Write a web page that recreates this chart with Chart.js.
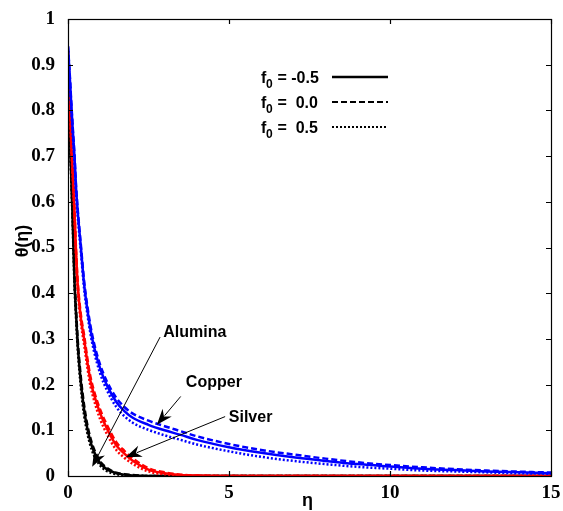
<!DOCTYPE html>
<html>
<head>
<meta charset="utf-8">
<script src="https://cdn.jsdelivr.net/npm/chart.js@4.4.1/dist/chart.umd.min.js"></script>
<style>
  html, body { margin: 0; padding: 0; background: #fff; }
  #wrap { width: 563px; height: 511px; }
</style>
</head>
<body>
<div id="wrap"><canvas id="thetaChart" width="563" height="511"></canvas></div>
<script>
// eta values shared by every curve
const eta = [0, 0.05, 0.1, 0.15, 0.2, 0.25, 0.3, 0.4, 0.5, 0.6, 0.7, 0.8, 1, 1.2, 1.5, 1.75, 2, 2.5, 3, 3.5, 4, 5, 6, 7, 8, 9, 10, 11, 12, 13, 14, 15];

// copper (blue)
const copperM05 = [0.94, 0.88, 0.815, 0.755, 0.70, 0.63, 0.58, 0.50, 0.42, 0.365, 0.32, 0.285, 0.235, 0.20, 0.162, 0.142, 0.128, 0.112, 0.10, 0.09, 0.079, 0.063, 0.051, 0.041, 0.033, 0.026, 0.021, 0.016, 0.013, 0.010, 0.008, 0.006];
const copper00 = [0.94, 0.885, 0.82, 0.76, 0.705, 0.635, 0.585, 0.505, 0.427, 0.372, 0.328, 0.293, 0.243, 0.208, 0.171, 0.151, 0.137, 0.121, 0.109, 0.098, 0.087, 0.070, 0.057, 0.047, 0.038, 0.030, 0.024, 0.019, 0.015, 0.012, 0.0095, 0.0075];
const copperP05 = [0.93, 0.87, 0.805, 0.745, 0.69, 0.62, 0.57, 0.49, 0.41, 0.355, 0.31, 0.275, 0.224, 0.189, 0.151, 0.131, 0.117, 0.101, 0.089, 0.079, 0.069, 0.054, 0.042, 0.033, 0.026, 0.020, 0.016, 0.012, 0.010, 0.008, 0.006, 0.005];

// silver (red)
const silverM05 = [0.93, 0.83, 0.73, 0.66, 0.58, 0.49, 0.42, 0.345, 0.30, 0.25, 0.208, 0.18, 0.137, 0.105, 0.067, 0.049, 0.034, 0.014, 0.006, 0.002, 0.001, 0, 0, 0, 0, 0, 0, 0, 0, 0, 0, 0];
const silver00 = [0.93, 0.835, 0.735, 0.665, 0.585, 0.495, 0.427, 0.353, 0.308, 0.258, 0.216, 0.188, 0.145, 0.113, 0.074, 0.055, 0.039, 0.017, 0.008, 0.003, 0.001, 0, 0, 0, 0, 0, 0, 0, 0, 0, 0, 0];
const silverP05 = [0.92, 0.82, 0.72, 0.65, 0.57, 0.48, 0.41, 0.335, 0.288, 0.238, 0.196, 0.168, 0.124, 0.093, 0.057, 0.040, 0.027, 0.010, 0.004, 0.001, 0, 0, 0, 0, 0, 0, 0, 0, 0, 0, 0, 0];

// alumina (black)
const aluminaM05 = [0.91, 0.77, 0.66, 0.55, 0.43, 0.355, 0.29, 0.205, 0.145, 0.104, 0.075, 0.054, 0.028, 0.015, 0.006, 0.003, 0.001, 0, 0, 0, 0, 0, 0, 0, 0, 0, 0, 0, 0, 0, 0, 0];
const alumina00 = [0.91, 0.775, 0.665, 0.56, 0.44, 0.365, 0.30, 0.215, 0.155, 0.112, 0.082, 0.06, 0.032, 0.018, 0.007, 0.004, 0.002, 0, 0, 0, 0, 0, 0, 0, 0, 0, 0, 0, 0, 0, 0, 0];
const aluminaP05 = [0.90, 0.76, 0.65, 0.54, 0.42, 0.345, 0.28, 0.193, 0.133, 0.094, 0.066, 0.046, 0.023, 0.011, 0.004, 0.002, 0.001, 0, 0, 0, 0, 0, 0, 0, 0, 0, 0, 0, 0, 0, 0, 0];

// tick values
const xTicks = [0, 5, 10, 15];
const yTicks = [0, 0.1, 0.2, 0.3, 0.4, 0.5, 0.6, 0.7, 0.8, 0.9, 1];

// legend rows and label arrows (label pos, arrow start, arrow tip in data units)
const legendLabels = ['-0.5', ' 0.0', ' 0.5'];
const arrowNotes = [
    { text: 'Alumina', at: [3.94, 0.313], from: [2.86, 0.304], to: [0.75, 0.02] },
    { text: 'Copper', at: [4.53, 0.204], from: [3.5, 0.174], to: [2.76, 0.112] },
    { text: 'Silver', at: [5.67, 0.127], from: [4.88, 0.13], to: [1.79, 0.041] }
];

const blue = '#0000ff';
const red = '#ff0000';
const black = '#000000';
const dashes = [[], [6, 3], [2, 2]];
const tickFont = { family: "'Liberation Serif', 'Times New Roman', serif", size: 19, weight: 'bold' };
const textFont = "bold 16px 'Liberation Sans', Arial, sans-serif";

function pts(ys) {
    return eta.map((x, i) => ({ x: x, y: ys[i] }));
}

function line(ys, color, style) {
    return {
        data: pts(ys),
        borderColor: color,
        borderWidth: 2.5,
        borderDash: dashes[style],
        pointRadius: 0,
        fill: false,
        cubicInterpolationMode: 'monotone'
    };
}

//frame, inward ticks, legend, axis titles and arrows
const decorations = {
    id: 'decorations',
    afterDraw(chart) {
        const ctx = chart.ctx;
        const xs = chart.scales.x;
        const ys = chart.scales.y;
        const a = chart.chartArea;
        ctx.save();
        ctx.strokeStyle = black;
        ctx.lineWidth = 1.2;
        ctx.setLineDash([]);
        ctx.strokeRect(a.left + 0.5, a.top + 0.5, a.right - a.left, a.bottom - a.top);

        ctx.beginPath();
        yTicks.forEach((v) => {
            const py = Math.round(ys.getPixelForValue(v)) + 0.5;
            ctx.moveTo(a.left, py); ctx.lineTo(a.left + 5, py);
            ctx.moveTo(a.right, py); ctx.lineTo(a.right - 5, py);
        });
        xTicks.forEach((v) => {
            const px = Math.round(xs.getPixelForValue(v)) + 0.5;
            ctx.moveTo(px, a.bottom); ctx.lineTo(px, a.bottom - 5);
            ctx.moveTo(px, a.top); ctx.lineTo(px, a.top + 5);
        });
        ctx.stroke();

        // legend
        ctx.fillStyle = black;
        ctx.textBaseline = 'alphabetic';
        legendLabels.forEach((lab, i) => {
            const y = 83 + i * 25;
            ctx.font = textFont;
            ctx.textAlign = 'left';
            ctx.fillText('f', 261, y);
            ctx.font = "bold 12px 'Liberation Sans', Arial, sans-serif";
            ctx.fillText('0', 266, y + 5);
            ctx.font = textFont;
            ctx.fillText(' = ' + lab, 273, y);
            ctx.lineWidth = i === 0 ? 2.5 : 2;
            ctx.setLineDash(dashes[i]);
            ctx.beginPath();
            ctx.moveTo(332, y - 6);
            ctx.lineTo(388, y - 6);
            ctx.stroke();
        });
        ctx.setLineDash([]);

        // axis titles
        ctx.font = "bold 18px 'Liberation Sans', Arial, sans-serif";
        ctx.textAlign = 'center';
        ctx.textBaseline = 'alphabetic';
        ctx.fillText('\u03b7', (a.left + a.right) / 2 - 2, 506);
        ctx.save();
        ctx.translate(28, 241);
        ctx.rotate(-Math.PI / 2);
        ctx.fillText('\u03b8(\u03b7)', 0, 0);
        ctx.restore();

        // labels with arrows
        ctx.font = textFont;
        ctx.textBaseline = 'middle';
        arrowNotes.forEach((n) => {
            ctx.fillText(n.text, xs.getPixelForValue(n.at[0]), ys.getPixelForValue(n.at[1]));
            const x0 = xs.getPixelForValue(n.from[0]);
            const y0 = ys.getPixelForValue(n.from[1]);
            const x1 = xs.getPixelForValue(n.to[0]);
            const y1 = ys.getPixelForValue(n.to[1]);
            const c = Math.cos(Math.atan2(y1 - y0, x1 - x0));
            const s = Math.sin(Math.atan2(y1 - y0, x1 - x0));
            ctx.lineWidth = 1;
            ctx.beginPath();
            ctx.moveTo(x0, y0);
            ctx.lineTo(x1 - 12 * c, y1 - 12 * s);
            ctx.stroke();
            ctx.beginPath();
            ctx.moveTo(x1, y1);
            ctx.lineTo(x1 - 16 * c + 6 * s, y1 - 16 * s - 6 * c);
            ctx.lineTo(x1 - 11 * c, y1 - 11 * s);
            ctx.lineTo(x1 - 16 * c - 6 * s, y1 - 16 * s + 6 * c);
            ctx.closePath();
            ctx.fill();
        });
        ctx.restore();
    }
};

const ctxTheta = document.getElementById('thetaChart');

new Chart(ctxTheta, {
    type: 'line',
    data: {
        datasets: [
            line(copperM05, blue, 0),
            line(copper00, blue, 1),
            line(copperP05, blue, 2),
            line(silverM05, red, 0),
            line(silver00, red, 1),
            line(silverP05, red, 2),
            line(aluminaM05, black, 0),
            line(alumina00, black, 1),
            line(aluminaP05, black, 2)
        ]
    },
    options: {
        responsive: false,
        animation: false,
        layout: { padding: { left: 0, right: 12, top: 19, bottom: 0 } },
        plugins: { legend: { display: false }, tooltip: { enabled: false } },
        scales: {
            x: {
                type: 'linear',
                min: 0,
                max: 15,
                grid: { display: false },
                border: { display: false },
                afterFit: (s) => { s.height = 35; },
                afterBuildTicks: (s) => { s.ticks = xTicks.map((v) => ({ value: v })); },
                ticks: { color: black, font: tickFont, padding: -2, maxRotation: 0 }
            },
            y: {
                min: 0,
                max: 1,
                grid: { display: false },
                border: { display: false },
                afterFit: (s) => { s.width = 68; },
                afterBuildTicks: (s) => { s.ticks = yTicks.map((v) => ({ value: v })); },
                ticks: {
                    color: black,
                    font: tickFont,
                    padding: 5,
                    autoSkip: false,
                    callback: (v) => String(Number(v.toFixed(1)))
                }
            }
        }
    },
    plugins: [decorations]
});
</script>
</body>
</html>
